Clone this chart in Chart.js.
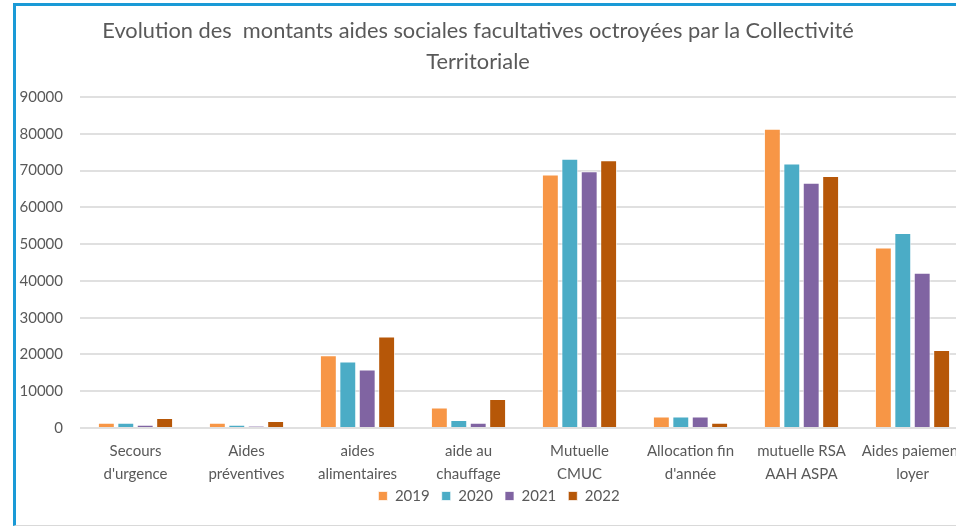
<!DOCTYPE html>
<html>
<head>
<meta charset="utf-8">
<script src="https://cdn.jsdelivr.net/npm/chart.js@4"></script>
<style>
  html, body { margin:0; padding:0; width:956px; height:529px; overflow:hidden; background:#fff; }
  #frame { position:absolute; left:13px; top:3px; width:1000px; height:523px; border-left:3px solid #1a9ad6; border-top:3px solid #1a9ad6; border-bottom:1px solid #d9d9d9; box-sizing:border-box; }
  #title { position:absolute; left:0; top:14px; width:956px; text-align:center; font-family:Lato, sans-serif; font-size:21.8px; line-height:31px; color:#595959; }
  #wrap { position:absolute; left:0; top:0; width:990px; height:529px; }
</style>
</head>
<body>
<div id="frame"></div>
<div id="wrap"><canvas id="c"></canvas></div>
<div id="title">Evolution des &nbsp;montants aides sociales facultatives octroyées par la Collectivité<br>Territoriale</div>
<script>
const categories = [
  ["Secours", "d'urgence"],
  ["Aides", "préventives"],
  ["aides", "alimentaires"],
  ["aide au", "chauffage"],
  ["Mutuelle", "CMUC"],
  ["Allocation fin", "d'année"],
  ["mutuelle RSA", "AAH ASPA"],
  ["Aides paiement", "loyer"]
];
const seriesNames = ["2019", "2020", "2021", "2022"];
const values2019 = [1400, 1400, 19800, 5600, 68900, 3100, 81400, 49100];
const values2020 = [1400, 900, 18100, 2200, 73200, 3100, 71900, 53000];
const values2021 = [900, 500, 15900, 1400, 69800, 3100, 66700, 42200];
const values2022 = [2700, 1900, 24900, 7900, 72800, 1400, 68500, 21200];
const yTicks = [0, 10000, 20000, 30000, 40000, 50000, 60000, 70000, 80000, 90000];

const colors = ["#f79646", "#4bacc6", "#8064a2", "#b65708"];
const allValues = [values2019, values2020, values2021, values2022];

const legendShift = {
  id: 'legendShift',
  afterLayout(chart) {
    const l = chart.legend;
    if (l) { l.top -= 8.5; l.bottom -= 8.5; l.left += 7; l.right += 7; }
  }
};

new Chart(document.getElementById('c'), {
  type: 'bar',
  data: {
    labels: categories,
    datasets: seriesNames.map((n, i) => ({
      label: n,
      data: allValues[i],
      backgroundColor: colors[i],
      borderColor: 'rgba(255,255,255,0.7)',
      borderWidth: 1,
      categoryPercentage: 0.70,
      barPercentage: 0.87
    }))
  },
  plugins: [legendShift],
  options: {
    responsive: true,
    maintainAspectRatio: false,
    animation: false,
    layout: { padding: { left: 16, right: 22, top: 97, bottom: 7 } },
    plugins: {
      title: { display: false },
      tooltip: { enabled: false },
      legend: {
        position: 'bottom',
        labels: {
          font: { family: 'Lato', size: 15 },
          color: '#595959',
          boxWidth: 9,
          boxHeight: 9,
          padding: 12
        }
      }
    },
    scales: {
      x: {
        afterFit: (s) => { s.height = 57; },
        grid: { display: false, drawTicks: false },
        border: { display: false },
        ticks: {
          font: { family: 'Lato', size: 15, lineHeight: 1.5 },
          color: '#595959',
          padding: 12,
          maxRotation: 0,
          autoSkip: false
        }
      },
      y: {
        min: 0,
        max: 90000,
        afterBuildTicks: (s) => { s.ticks = yTicks.map(v => ({ value: v })); },
        afterFit: (s) => { s.width = 64; },
        grid: { color: '#e0e0e0', lineWidth: 2, drawTicks: false },
        border: { display: false },
        ticks: {
          font: { family: 'Lato', size: 15 },
          color: '#595959',
          padding: 17,
          callback: (v) => String(v)
        }
      }
    }
  }
});
</script>
</body>
</html>
